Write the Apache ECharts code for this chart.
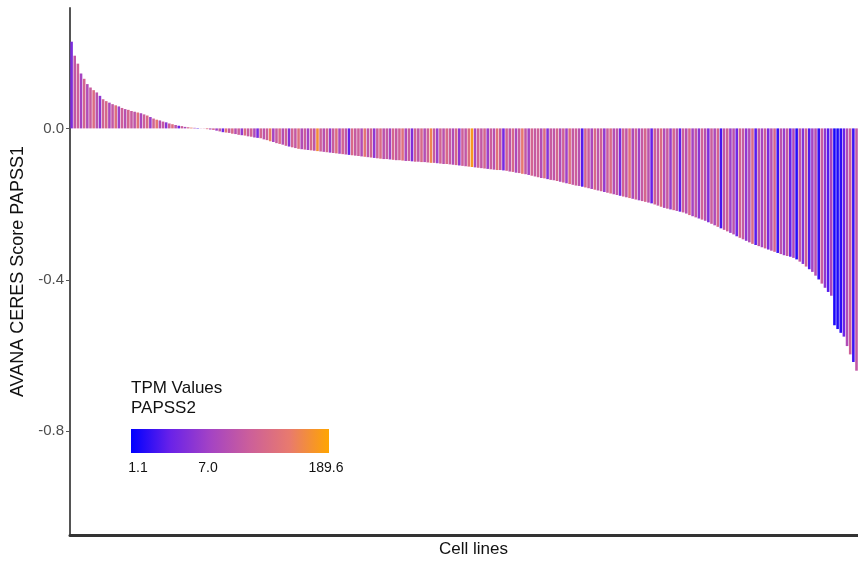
<!DOCTYPE html>
<html>
<head>
<meta charset="utf-8">
<script src="https://cdn.jsdelivr.net/npm/echarts@6/dist/echarts.min.js"></script>
<style>
html,body{margin:0;padding:0;background:#fff;overflow:hidden;width:858px;height:563px;}
#chart{width:880px;height:563px;}
</style>
</head>
<body>
<div id="chart"></div>
<script>
// AVANA CERES score of PAPSS1 per cell line (sorted descending)
var ceresScores = [
 0.229, 0.192, 0.171, 0.145, 0.131, 0.117, 0.108, 0.101, 0.095, 0.086,
 0.077, 0.072, 0.068, 0.064, 0.061, 0.058, 0.054, 0.051, 0.049, 0.046,
 0.044, 0.042, 0.040, 0.037, 0.034, 0.030, 0.026, 0.023, 0.021, 0.018,
 0.016, 0.013, 0.011, 0.009, 0.007, 0.006, 0.004, 0.003, 0.002, 0.0015,
 0.001, 0.0004, -0.0005, -0.002, -0.003, -0.004, -0.006, -0.008, -0.010, -0.011,
 -0.012, -0.014, -0.015, -0.017, -0.018, -0.019, -0.021, -0.022, -0.024, -0.025,
 -0.026, -0.029, -0.031, -0.034, -0.036, -0.039, -0.041, -0.043, -0.046, -0.048,
 -0.050, -0.052, -0.054, -0.055, -0.056, -0.057, -0.058, -0.059, -0.060, -0.061,
 -0.062, -0.063, -0.064, -0.065, -0.066, -0.067, -0.068, -0.069, -0.070, -0.071,
 -0.072, -0.073, -0.074, -0.075, -0.076, -0.077, -0.078, -0.079, -0.080, -0.081,
 -0.081, -0.082, -0.083, -0.084, -0.084, -0.085, -0.086, -0.086, -0.087, -0.088,
 -0.088, -0.089, -0.089, -0.090, -0.091, -0.091, -0.092, -0.093, -0.094, -0.094,
 -0.095, -0.096, -0.097, -0.098, -0.099, -0.100, -0.101, -0.102, -0.103, -0.104,
 -0.105, -0.106, -0.107, -0.108, -0.109, -0.110, -0.110, -0.111, -0.112, -0.114,
 -0.115, -0.117, -0.118, -0.120, -0.121, -0.123, -0.125, -0.127, -0.129, -0.131,
 -0.132, -0.134, -0.136, -0.137, -0.139, -0.141, -0.143, -0.145, -0.147, -0.149,
 -0.151, -0.152, -0.154, -0.156, -0.158, -0.160, -0.162, -0.164, -0.166, -0.168,
 -0.170, -0.172, -0.174, -0.176, -0.178, -0.180, -0.182, -0.184, -0.186, -0.188,
 -0.190, -0.192, -0.194, -0.196, -0.198, -0.201, -0.204, -0.207, -0.210, -0.212,
 -0.214, -0.216, -0.218, -0.220, -0.222, -0.225, -0.229, -0.232, -0.235, -0.238,
 -0.241, -0.244, -0.248, -0.252, -0.256, -0.260, -0.264, -0.268, -0.272, -0.276,
 -0.280, -0.285, -0.289, -0.293, -0.297, -0.301, -0.305, -0.308, -0.311, -0.314,
 -0.317, -0.320, -0.323, -0.326, -0.329, -0.332, -0.335, -0.337, -0.339, -0.342,
 -0.346, -0.352, -0.358, -0.365, -0.372, -0.379, -0.389, -0.399, -0.410, -0.421,
 -0.432, -0.442, -0.520, -0.530, -0.540, -0.550, -0.575, -0.597, -0.617, -0.640,
 -0.680, -0.720, -0.780, -0.850, -0.930, -1.010
];
// PAPSS2 expression (TPM) per cell line
var tpmValues = [
 4.2, 18, 25, 9, 31, 12, 22, 40, 15, 6, 28, 35, 11, 19, 45, 8, 26, 14, 33, 21,
 17, 52, 10, 24, 38, 7.5, 29, 60, 13, 20, 5.5, 27, 42, 16, 3.2, 23, 11, 34, 70, 9.5,
 2.1, 19, 26, 48, 12, 30, 8, 22, 3.5, 55, 18, 36, 14, 25, 6.5, 41, 20, 28, 11, 4,
 32, 16, 24, 75, 9, 21, 39, 13, 27, 5, 30, 19, 46, 12, 23, 8.5, 35, 17, 110, 26,
 14, 31, 7, 22, 44, 10, 28, 18, 3, 37, 20, 25, 12, 58, 16, 29, 6, 24, 40, 15,
 21, 9, 33, 19, 27, 48, 11, 23, 4.5, 30, 17, 36, 13, 26, 90, 20, 8, 29, 15, 38,
 22, 12, 34, 6, 25, 18, 43, 140, 10, 27, 19, 31, 7.5, 24, 14, 52, 21, 3.8, 28, 16,
 35, 11, 23, 65, 18, 9, 30, 20, 26, 13, 40, 5, 22, 17, 33, 12, 27, 8, 45, 19,
 24, 14, 2.5, 31, 21, 10, 36, 16, 28, 6.5, 23, 39, 13, 19, 4, 29, 17, 50, 11, 25,
 8, 20, 32, 15, 3, 27, 18, 42, 12, 22, 7, 30, 16, 2.8, 25, 13, 35, 9, 19, 5.5,
 28, 14, 4.5, 23, 11, 33, 2.2, 18, 26, 8, 15, 3.5, 29, 20, 6, 12, 38, 2.6, 17, 9,
 24, 4, 13, 30, 1.9, 16, 7, 21, 3, 11, 1.6, 19, 5, 27, 2.4, 8.5, 14, 1.8, 22, 6,
 2.5, 10, 1.4, 1.5, 1.7, 3.2, 12, 25, 2, 18, 4, 30, 1.3, 9, 2.2, 15
];
var cellLines = ceresScores.map(function (v, i) { return 'Cell ' + (i + 1); });
var yTickValues = [-0.8, -0.4, 0.0];
var tpmRange = [1.1, 189.6];
var legendBreaks = [1.1, 7.0, 189.6];

var gradColors = ['#0000ff', '#6a22e8', '#a443c4', '#cc5f9a', '#e87a6e', '#ffa500'];

var seriesData = ceresScores.map(function (v, i) {
  return [i, v, Math.log(tpmValues[i])];
});

var chart = echarts.init(document.getElementById('chart'), null, {renderer: 'canvas'});

var legendX = 131, legendW = 198;
var breakPos = [138, 208, 326];

var option = {
  backgroundColor: '#ffffff',
  animation: false,
  grid: {left: 70, right: 3, top: 8, bottom: 26, containLabel: false},
  xAxis: {
    type: 'category',
    data: cellLines,
    name: 'Cell lines',
    nameLocation: 'middle',
    nameGap: 6,
    nameTextStyle: {fontSize: 17, color: '#111', fontFamily: 'Liberation Sans, Arial, sans-serif', verticalAlign: 'top'},
    axisLine: {onZero: false, lineStyle: {color: '#333', width: 3}},
    axisTick: {show: false},
    axisLabel: {show: false},
    splitLine: {show: false}
  },
  yAxis: {
    type: 'value',
    min: -1.074,
    max: 0.318,
    name: 'AVANA CERES Score PAPSS1',
    nameLocation: 'middle',
    nameGap: 39,
    nameTextStyle: {fontSize: 18, color: '#111', fontFamily: 'Liberation Sans, Arial, sans-serif'},
    axisLine: {show: true, lineStyle: {color: '#555', width: 2}},
    axisTick: {show: true, length: 4, customValues: yTickValues, lineStyle: {color: '#555'}},
    axisLabel: {
      customValues: yTickValues,
      fontSize: 15,
      color: '#4d4d4d',
      margin: 6,
      fontFamily: 'Liberation Sans, Arial, sans-serif',
      formatter: function (v) { return v.toFixed(1); }
    },
    splitLine: {show: false}
  },
  visualMap: {
    show: false,
    type: 'continuous',
    dimension: 2,
    seriesIndex: 0,
    min: Math.log(tpmRange[0]),
    max: Math.log(tpmRange[1]),
    inRange: {color: gradColors}
  },
  series: [{
    type: 'bar',
    data: seriesData,
    encode: {x: 0, y: 1},
    barCategoryGap: '18%',
    itemStyle: {borderWidth: 0}
  }],
  graphic: [
    {type: 'text', left: legendX, top: 380, style: {text: 'TPM Values', font: '17px Liberation Sans, Arial, sans-serif', fill: '#111'}},
    {type: 'text', left: legendX, top: 400, style: {text: 'PAPSS2', font: '17px Liberation Sans, Arial, sans-serif', fill: '#111'}},
    {type: 'rect', left: legendX, top: 429, shape: {width: legendW, height: 24},
      style: {fill: new echarts.graphic.LinearGradient(0, 0, 1, 0, gradColors.map(function (c, i) {
        return {offset: i / (gradColors.length - 1), color: c};
      }))}},
    {type: 'text', x: breakPos[0], y: 461, style: {text: legendBreaks[0].toFixed(1), font: '14px Liberation Sans, Arial, sans-serif', fill: '#111', align: 'center'}},
    {type: 'text', x: breakPos[1], y: 461, style: {text: legendBreaks[1].toFixed(1), font: '14px Liberation Sans, Arial, sans-serif', fill: '#111', align: 'center'}},
    {type: 'text', x: breakPos[2], y: 461, style: {text: legendBreaks[2].toFixed(1), font: '14px Liberation Sans, Arial, sans-serif', fill: '#111', align: 'center'}}
  ]
};
chart.setOption(option);
</script>
</body>
</html>
